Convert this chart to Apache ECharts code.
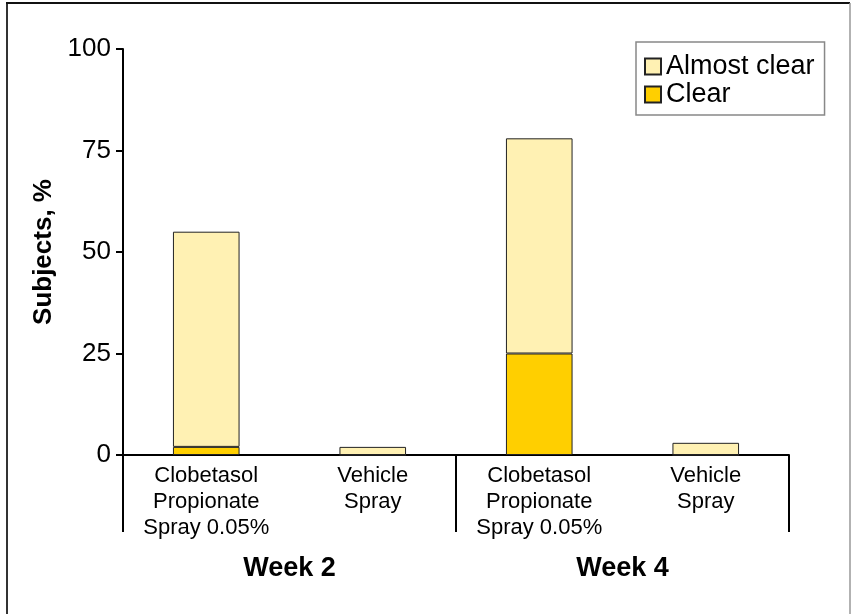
<!DOCTYPE html>
<html>
<head>
<meta charset="utf-8">
<script src="https://cdn.jsdelivr.net/npm/echarts@6/dist/echarts.min.js"></script>
<style>
html,body{margin:0;padding:0;background:#fff;}
#chart{width:851px;height:614px;}
</style>
</head>
<body>
<div id="chart"></div>
<script>
var categories = ['Clobetasol\nPropionate\nSpray 0.05%', 'Vehicle\nSpray', 'Clobetasol\nPropionate\nSpray 0.05%', 'Vehicle\nSpray'];
var weeks = ['Week 2', 'Week 4'];
var clearValues = [2, 0, 25, 0];
var almostClearValues = [53, 2, 53, 3];
var yTicks = [0, 25, 50, 75, 100];

var FONT = '"Liberation Sans", Arial, Helvetica, sans-serif';
var chart = echarts.init(document.getElementById('chart'));
chart.setOption({
  animation: false,
  textStyle: {fontFamily: FONT, color: '#000'},
  graphic: [
    {type: 'line', shape: {x1: 7, y1: 3, x2: 7, y2: 614}, style: {stroke: '#333', lineWidth: 2}},
    {type: 'line', shape: {x1: 6, y1: 3, x2: 850, y2: 3}, style: {stroke: '#111', lineWidth: 2}},
    {type: 'line', shape: {x1: 850, y1: 3, x2: 850, y2: 614}, style: {stroke: '#999', lineWidth: 1.5}}
  ],
  grid: {left: 123, right: 62, top: 49, bottom: 159, containLabel: false},
  legend: {
    orient: 'vertical',
    left: 636, top: 42,
    data: ['Almost clear', 'Clear'],
    itemWidth: 16, itemHeight: 16, itemGap: 1, itemTextGap: 15,
    padding: [11, 10, 7, 8],
    borderColor: '#888', borderWidth: 1.5, backgroundColor: '#fff',
    icon: 'rect',
    textStyle: {fontSize: 27, color: '#000', fontFamily: FONT}
  },
  xAxis: [
    {
      type: 'category', data: categories, position: 'bottom',
      axisLine: {show: true, onZero: false, lineStyle: {color: '#000', width: 2}},
      axisTick: {show: false},
      axisLabel: {fontSize: 22, lineHeight: 26, color: '#000', margin: 8, interval: 0, fontFamily: FONT}
    },
    {
      type: 'category', data: weeks, position: 'bottom',
      axisLine: {show: false},
      axisTick: {show: true, length: 77, lineStyle: {color: '#000', width: 2}},
      axisLabel: {fontSize: 27, fontWeight: 'bold', color: '#000', margin: 100, fontFamily: FONT}
    }
  ],
  yAxis: {
    type: 'value', min: 0, max: 100, interval: 25,
    name: 'Subjects, %', nameLocation: 'middle', nameGap: 66,
    nameTextStyle: {fontSize: 26, fontWeight: 'bold', color: '#000', fontFamily: FONT},
    axisLine: {show: true, lineStyle: {color: '#000', width: 2}},
    axisTick: {show: true, length: 7, lineStyle: {color: '#000', width: 2}},
    splitLine: {show: false},
    axisLabel: {fontSize: 26, color: '#000', margin: 12, fontFamily: FONT,
      formatter: function (v) { return yTicks.indexOf(v) >= 0 ? String(v) : ''; }}
  },
  series: [
    {
      name: 'Clear', type: 'bar', stack: 'total', data: clearValues, barWidth: '40%',
      itemStyle: {color: '#FFCF00', borderColor: '#222', borderWidth: 1}
    },
    {
      name: 'Almost clear', type: 'bar', stack: 'total', data: almostClearValues, barWidth: '40%',
      itemStyle: {color: '#FFF1B3', borderColor: '#222', borderWidth: 1}
    }
  ]
});
</script>
</body>
</html>
